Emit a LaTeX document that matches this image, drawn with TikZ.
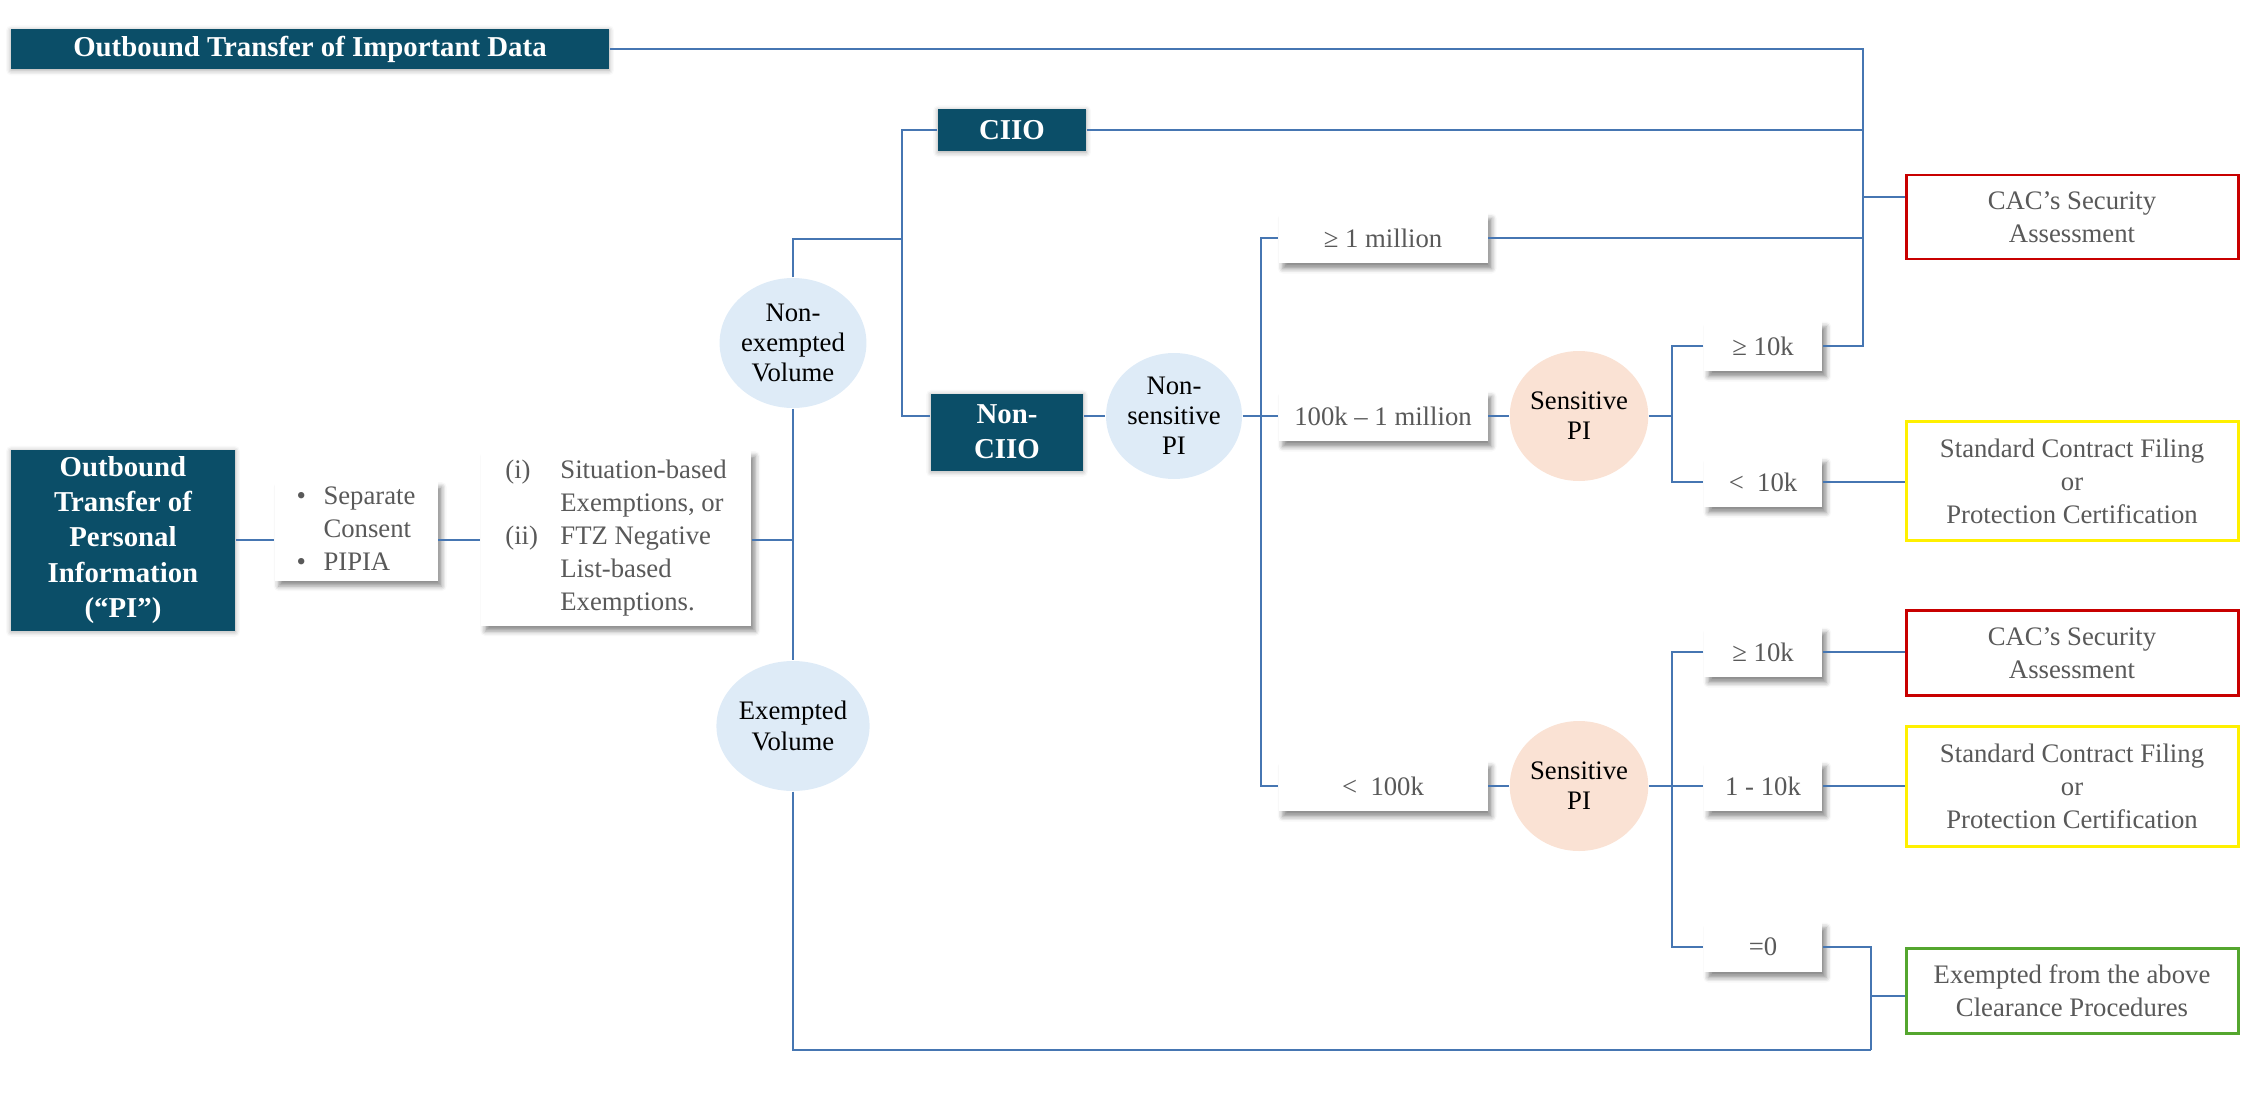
\documentclass[tikz,border=0pt]{standalone}
\usepackage{fontspec}
\setmainfont{Liberation Serif}
\usepackage{tikz}
\usetikzlibrary{shapes.geometric, shadows.blur}
\definecolor{headcol}{RGB}{11,78,104}
\definecolor{linkcol}{RGB}{70,118,178}
\definecolor{volfill}{RGB}{222,235,247}
\definecolor{sensfill}{RGB}{250,226,212}
\definecolor{txtgray}{RGB}{89,89,89}
\definecolor{cacred}{RGB}{200,0,0}
\definecolor{scfyellow}{RGB}{255,240,0}
\definecolor{exgreen}{RGB}{84,166,46}

\begin{document}
\begin{tikzpicture}[
  txt/.style={font=\fontsize{7.6}{9.4}\selectfont, align=center, inner sep=0pt},
  head/.style={fill=headcol, text=white, font=\fontsize{8.2}{10}\selectfont\bfseries,
               align=center, inner sep=0pt,
               blur shadow={shadow xshift=0pt, shadow yshift=-0.4pt,
                            shadow blur radius=1.4pt, shadow opacity=35}},
  card/.style={txt, fill=white, text=txtgray,
               blur shadow={shadow xshift=1.2pt, shadow yshift=-1.6pt,
                            shadow blur radius=1.4pt, shadow opacity=45}},
  volume/.style={txt, ellipse, fill=volfill, minimum width=1.38cm,
                 minimum height=1.30cm, font=\fontsize{7.6}{8.6}\selectfont},
  sensitive/.style={volume, fill=sensfill, minimum width=1.34cm},
  rangebox/.style={card, minimum width=2.09cm, minimum height=0.50cm},
  countbox/.style={card, minimum width=1.18cm, minimum height=0.50cm},
  outcome/.style={txt, draw=#1, line width=0.85pt, fill=white, text=txtgray,
                  minimum width=3.32cm},
  link/.style={draw=linkcol, line width=0.55pt}
]
  \useasboundingbox (0,0) rectangle (22.64,-10.97);

  \node[head, minimum width=5.98cm, minimum height=0.40cm] (impdata) at (3.10,-0.49)
    {Outbound Transfer of Important Data};

  \node[head, minimum width=2.24cm, minimum height=1.81cm] (pi) at (1.23,-5.40)
    {Outbound\\Transfer of\\Personal\\Information\\(“PI”)};
  \node[card, minimum width=1.63cm, minimum height=0.98cm] (cons) at (3.56,-5.31)
    {\begin{tabular}{@{}p{0.27cm}@{}l@{}}
       \textbullet & Separate\\ & Consent\\ \textbullet & PIPIA
     \end{tabular}};
  \node[card, minimum width=2.70cm, minimum height=1.75cm] (exem) at (6.16,-5.38)
    {\begin{tabular}{@{}p{0.55cm}@{}l@{}}
       (i) & Situation-based\\ & Exemptions, or\\ (ii) & FTZ Negative\\
       & List-based\\ & Exemptions.
     \end{tabular}};

  \node[volume] (nonex) at (7.93,-3.43) {Non-\\exempted\\Volume};
  \node[volume] (exvol) at (7.93,-7.26) {Exempted\\Volume};

  \node[head, minimum width=1.48cm, minimum height=0.42cm] (ciio) at (10.12,-1.30) {CIIO};
  \node[head, minimum width=1.52cm, minimum height=0.77cm] (nonciio) at (10.07,-4.32)
    {Non-\\CIIO};
  \node[volume, minimum width=1.36cm, minimum height=1.26cm] (nonsens) at (11.74,-4.16)
    {Non-\\sensitive\\PI};

  \node[rangebox] (mil1) at (13.83,-2.38) {≥ 1 million};
  \node[rangebox] (mil2) at (13.83,-4.16) {100k – 1 million};
  \node[rangebox] (k100) at (13.83,-7.86) {<\enspace 100k};

  \node[sensitive] (sensA) at (15.79,-4.16) {Sensitive\\PI};
  \node[sensitive] (sensB) at (15.79,-7.86) {Sensitive\\PI};

  \node[countbox] (geA) at (17.63,-3.46) {≥ 10k};
  \node[countbox] (ltA) at (17.63,-4.82) {<\enspace 10k};
  \node[countbox] (geB) at (17.63,-6.52) {≥ 10k};
  \node[countbox] (midB) at (17.63,-7.86) {1 - 10k};
  \node[countbox] (zeroB) at (17.63,-9.47) {=0};

  \node[outcome=cacred, minimum height=0.84cm] (cacA) at (20.72,-2.17)
    {CAC’s Security\\Assessment};
  \node[outcome=scfyellow, minimum height=1.19cm] (scfA) at (20.72,-4.81)
    {Standard Contract Filing\\or\\Protection Certification};
  \node[outcome=cacred, minimum height=0.85cm] (cacB) at (20.72,-6.53)
    {CAC’s Security\\Assessment};
  \node[outcome=scfyellow, minimum height=1.20cm] (scfB) at (20.72,-7.86)
    {Standard Contract Filing\\or\\Protection Certification};
  \node[outcome=exgreen, minimum height=0.85cm] (exout) at (20.72,-9.91)
    {Exempted from the above\\Clearance Procedures};

  \coordinate (ciiobus) at (9.02,-2.39);
  \coordinate (nsbus) at (12.61,0);
  \coordinate (sbus) at (16.72,0);
  \coordinate (cacbus) at (18.63,-1.97);
  \coordinate (zerobus) at (18.71,-10.50);
  \coordinate (exjoin) at (18.71,-9.96);

  \draw[link] (pi.east) -- (pi.east -| cons.west);
  \draw[link] (cons.east |- pi.east) -- (exem.west |- pi.east);
  \draw[link] (exem.east |- pi.east) -- (pi.east -| nonex);
  \draw[link] (nonex.north) |- (ciiobus);
  \draw[link] (nonex.south) -- (exvol.north);
  \draw[link] (exvol.south) |- (zerobus);
  \draw[link] (ciio.west) -| (ciiobus) |- (nonciio.west |- nonsens);
  \draw[link] (nonciio.east |- nonsens) -- (nonsens.west);

  \draw[link] (nonsens.east) -- (mil2.west);
  \draw[link] (mil1.west) -| (nsbus |- k100) -- (k100.west);
  \draw[link] (mil2.east) -- (sensA.west);
  \draw[link] (k100.east) -- (sensB.west);

  \draw[link] (sensA.east) -- (sbus |- sensA);
  \draw[link] (geA.west) -| (sbus |- ltA) -- (ltA.west);
  \draw[link] (sensB.east) -- (midB.west);
  \draw[link] (geB.west) -| (sbus |- zeroB) -- (zeroB.west);

  \draw[link] (impdata.east) -| (cacbus |- geA) -- (geA.east);
  \draw[link] (ciio.east) -- (ciio.east -| cacbus);
  \draw[link] (mil1.east) -- (mil1.east -| cacbus);
  \draw[link] (cacbus) -- (cacbus -| cacA.west);
  \draw[link] (ltA.east) -- (ltA.east -| scfA.west);
  \draw[link] (geB.east) -- (geB.east -| cacB.west);
  \draw[link] (midB.east) -- (midB.east -| scfB.west);
  \draw[link] (zeroB.east) -| (zerobus);
  \draw[link] (exjoin) -- (exjoin -| exout.west);
\end{tikzpicture}
\end{document}
